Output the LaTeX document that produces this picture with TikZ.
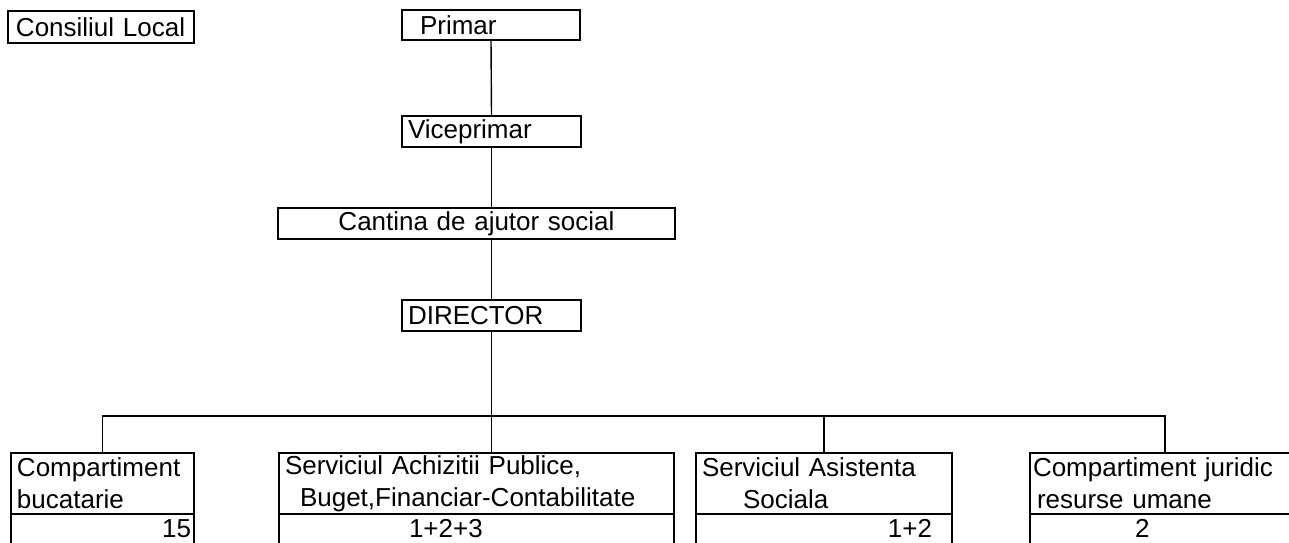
\documentclass[tikz,border=0pt]{standalone}
\usepackage{fontspec}
\setmainfont{Liberation Sans}
\usepackage{tikz}

\begin{document}
\begin{tikzpicture}[x=0.5pt,y=-0.5pt]
	\tikzstyle{box} = [draw, line width=0.7pt, inner ysep=0pt, inner xsep=3pt, font=\fontsize{13}{16}\selectfont, align=left]
	\tikzstyle{conn} = [line width=0.7pt]
	\useasboundingbox (0,0) rectangle (1289,542);
	\clip (0,0) rectangle (1289,542);
	\node[box, inner xsep=4pt, text width=85pt, minimum height=16pt] (consiliu) at (101,27) {Consiliul Local};
	\node[box, inner xsep=9pt, text width=71pt, minimum height=15pt] (primar) at (491,25) {Primar};
	\node[box, text width=83.5pt, minimum height=15.5pt] (vice) at (491.5,131.5) {Viceprimar};
	\node[box, text width=192.5pt, minimum height=15.5pt, align=center] (cantina) at (476.5,223.5) {Cantina de ajutor social};
	\node[box, text width=83.5pt, minimum height=15.5pt] (director) at (491.5,315.5) {DIRECTOR};
	\node[box, text width=85.5pt, minimum height=30.5pt] (bucatarie) at (102.5,483.5) {Compartiment\\bucatarie};
	\node[box, text width=191.5pt, minimum height=30.5pt] (achizitii) at (476.5,483.5) {Serviciul Achizitii Publice,\\\hspace*{7.5pt}Buget,Financiar-Contabilitate};
	\node[box, text width=122pt, minimum height=30.5pt] (asistenta) at (824,483.5) {Serviciul Asistenta\\\hspace*{20.5pt}Sociala};
	\node[box, inner xsep=1.5pt, text width=132pt, minimum height=30.5pt] (juridic) at (1165,483.5) {Compartiment juridic\\\hspace*{2pt}resurse umane};
	\node[box, inner xsep=1.5pt, text width=88.5pt, minimum height=14.75pt, align=right] (bucatarieNr) at (102.5,528.75) {15};
	\node[box, text width=191.5pt, minimum height=14.75pt] (achizitiiNr) at (476.5,528.75) {\hspace*{62pt}1+2+3};
	\node[box, inner xsep=10pt, text width=108pt, minimum height=14.75pt, align=right] (asistentaNr) at (824,528.75) {1+2};
	\node[box, inner xsep=1.5pt, text width=132pt, minimum height=14.75pt] (juridicNr) at (1165,528.75) {\hspace*{51pt}2};
	\coordinate (bus) at (0,416);
	\draw[conn] (primar.south) -- (vice.north);
	\draw[conn] (vice.south) -- (vice.south |- cantina.north);
	\draw[conn] (vice.south |- cantina.south) -- (director.north);
	\draw[conn] (director.south) -- (director.south |- achizitii.north);
	\draw[conn] (bucatarie.north) -- (bucatarie.north |- bus) -- (juridic.north |- bus) -- (juridic.north);
	\draw[conn] (asistenta.north) -- (asistenta.north |- bus);
\end{tikzpicture}
\end{document}
